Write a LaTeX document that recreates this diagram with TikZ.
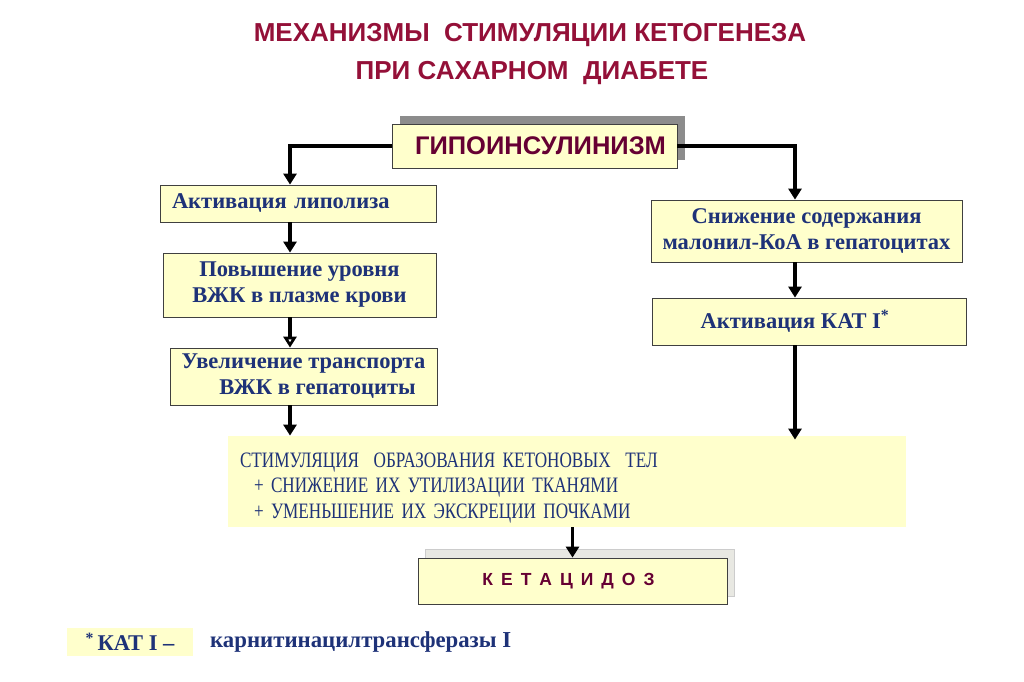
\documentclass[tikz,border=0pt]{standalone}
\usepackage{fontspec}
\setmainfont{Liberation Serif}
\setsansfont{Liberation Sans}
\newfontfamily\condserif[FakeStretch=0.78]{Liberation Serif}
\usetikzlibrary{arrows.meta,positioning}
\definecolor{titlered}{RGB}{148,16,56}
\definecolor{darkwine}{RGB}{102,0,51}
\definecolor{navytext}{RGB}{30,50,120}
\definecolor{paleyellow}{RGB}{255,255,204}
\definecolor{darkshadow}{RGB}{140,140,140}
\definecolor{lightshadow}{RGB}{232,232,226}
\tikzset{
  heading/.style={text=titlered, font=\sffamily\bfseries\fontsize{26}{30}\selectfont},
  box/.style={draw=black!75, line width=0.8pt, fill=paleyellow, text=navytext,
    font=\bfseries\fontsize{22.5}{26}\selectfont, align=center, inner sep=0pt},
  keybox/.style={box, text=darkwine, font=\sffamily\bfseries\fontsize{25.5}{28}\selectfont},
  arr/.style={line width=3.2pt, -{Triangle[length=11pt,width=13pt]}},
  openarr/.style={line width=3.2pt, -{Triangle[open,length=11pt,width=13pt]}}
}
\begin{document}
\begin{tikzpicture}[x=1pt,y=-1pt]
\useasboundingbox (0,0) rectangle (1024,681);
\node[heading] (title1) at (530,35) {МЕХАНИЗМЫ\ \ СТИМУЛЯЦИИ КЕТОГЕНЕЗА};
\node[heading] (title2) at (532,73) {ПРИ САХАРНОМ\ \ ДИАБЕТЕ};
\coordinate (lx) at (290,0);
\coordinate (rx) at (795,0);
\fill[darkshadow] (400,116) rectangle (685,160);
\node[keybox, minimum width=285pt, minimum height=44pt] (hypo) at (534.5,146) {\hspace*{12pt}ГИПОИНСУЛИНИЗМ};
\node[box, minimum width=276pt, minimum height=37pt, text width=252pt, align=left] (lipol) at (298,203.5) {\raisebox{-3pt}{Активация липолиза}};
\node[box, minimum width=273pt, minimum height=64pt] (ffa) at (299.5,285) {Повышение уровня\\ВЖК в плазме крови};
\node[box, minimum width=267pt, minimum height=57pt] (transp) at (303.5,376.5) {Увеличение транспорта\\\hspace*{28pt}ВЖК в гепатоциты};
\node[box, minimum width=311pt, minimum height=62pt] (malon) at (806.5,231) {Снижение содержания\\малонил-КоА в гепатоцитах};
\node[box, minimum width=314pt, minimum height=47pt] (kat) at (809,321.5) {Активация КАТ I\textsuperscript{*}\hspace*{28pt}};
\node[box, draw=none, minimum width=678pt, minimum height=91pt, text width=654pt, align=left,
  font=\condserif\fontsize{22}{25.5}\selectfont] (stim) at (567,481.5)
  {\rule{0pt}{27.5pt}СТИМУЛЯЦИЯ\ \ ОБРАЗОВАНИЯ КЕТОНОВЫХ\ \ ТЕЛ\\
   \hspace*{14pt}+ СНИЖЕНИЕ ИХ УТИЛИЗАЦИИ ТКАНЯМИ\\
   \hspace*{14pt}+ УМЕНЬШЕНИЕ ИХ ЭКСКРЕЦИИ ПОЧКАМИ};
\filldraw[fill=lightshadow, draw=black!20] (425,549) rectangle (734,596);
\node[keybox, minimum width=309pt, minimum height=46pt, font=\sffamily\bfseries\fontsize{17.5}{20}\selectfont] (keto) at (572.5,581)
  {\raisebox{-2pt}{К\kern8pt Е\kern8pt Т\kern8pt А\kern8pt Ц\kern8pt И\kern8pt Д\kern8pt О\kern8pt З}\hspace*{8pt}};
\node[box, draw=none, minimum width=126pt, minimum height=28pt] (note) at (130,642) {\textsuperscript{*}\,КАТ I –};
\node[text=navytext, font=\bfseries\fontsize{22.8}{26}\selectfont, inner sep=0pt, anchor=west] (notetext) at (210,642) {карнитинацилтрансферазы I};
\draw[arr] (hypo.west) -| (lipol.north -| lx);
\draw[arr] (hypo.east) -| (malon.north -| rx);
\draw[arr] (lipol.south -| lx) -- (ffa.north -| lx);
\draw[openarr] (ffa.south -| lx) -- (transp.north -| lx);
\draw[arr] (transp.south -| lx) -- (stim.north -| lx);
\draw[arr] (malon.south -| rx) -- (kat.north -| rx);
\draw[arr] (kat.south -| rx) -- ([yshift=-4pt]stim.north -| rx);
\draw[arr] (stim.south -| keto.north) -- (keto.north);
\end{tikzpicture}
\end{document}
